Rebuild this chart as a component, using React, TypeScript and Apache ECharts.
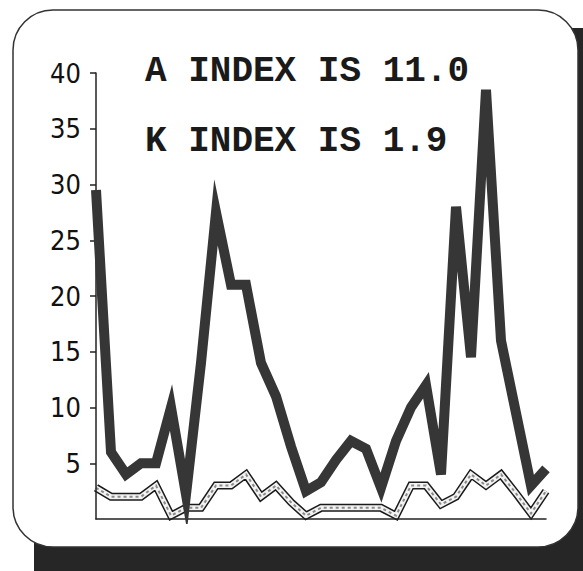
import React, { useEffect, useRef } from "react";
import * as echarts from "echarts";

const days = ["1","2","3","4","5","6","7","8","9","10","11","12","13","14","15","16","17","18","19","20","21","22","23","24","25","26","27","28","29","30","31"];
const aIndex = [29.5, 6, 4, 5, 5, 10, 2.2, 14, 27.5, 21, 21, 14, 11, 6.5, 2.5, 3.3, 5.3, 7, 6.3, 2.8, 7, 10, 12, 4, 28, 14.5, 38.5, 16, 9.5, 3, 4.5];
const kIndex = [2.8, 2, 2, 2, 3, 0.3, 1, 1, 3, 3, 4, 2, 3, 1.5, 0.3, 1, 1, 1, 1, 1, 0.3, 3, 3, 1.3, 2, 4, 3, 4, 2.3, 0.5, 2.5];
const headline1 = "A INDEX IS 11.0";
const headline2 = "K INDEX IS 1.9";
const yTicks = { min: 0, max: 40, interval: 5 };

export default function App() {
  const ref = useRef<HTMLDivElement>(null);
  useEffect(() => {
    if (!ref.current) return;
    const chart = echarts.init(ref.current, null, { renderer: "svg" });
    const headFont = "bold 36px 'Liberation Mono', 'Courier New', monospace";
    chart.setOption({
      animation: false,
      backgroundColor: "#ffffff",
      grid: { left: 96, right: 37, top: 73, bottom: 52, containLabel: false },
      graphic: [
        {
          type: "rect",
          z: -10,
          shape: { x: 34, y: 28, width: 640, height: 600, r: 45 },
          style: { fill: "#262626" },
        },
        {
          type: "rect",
          z: -9,
          shape: { x: 13, y: 10, width: 565, height: 537, r: 40 },
          style: { fill: "#ffffff", stroke: "#333333", lineWidth: 1.5 },
        },
        {
          type: "text",
          z: 10,
          x: 145,
          y: 71,
          style: { text: headline1, font: headFont, fill: "#1a1a1a", verticalAlign: "middle", align: "left" },
        },
        {
          type: "text",
          z: 10,
          x: 145,
          y: 141,
          style: { text: headline2, font: headFont, fill: "#1a1a1a", verticalAlign: "middle", align: "left" },
        },
      ],
      xAxis: {
        type: "category",
        data: days,
        boundaryGap: false,
        z: 5,
        axisLine: { show: true, lineStyle: { color: "#222", width: 1.5 } },
        axisTick: { show: false },
        axisLabel: { show: false },
        splitLine: { show: false },
      },
      yAxis: {
        type: "value",
        min: yTicks.min,
        max: yTicks.max,
        interval: yTicks.interval,
        z: 5,
        axisLine: { show: true, lineStyle: { color: "#222", width: 1.5 } },
        axisTick: { show: true, length: 6, lineStyle: { color: "#222", width: 1.5 } },
        axisLabel: {
          show: true,
          showMinLabel: false,
          margin: 15,
          color: "#111111",
          fontSize: 27,
          fontWeight: "normal",
          fontFamily: "'DejaVu Sans Condensed', 'Liberation Sans Narrow', 'Arial Narrow', sans-serif",
        },
        splitLine: { show: false },
      },
      series: [
        {
          name: "K outline",
          type: "line",
          data: kIndex,
          symbol: "none",
          z: 2,
          lineStyle: { color: "#1a1a1a", width: 8, join: "miter" },
        },
        {
          name: "K fill",
          type: "line",
          data: kIndex,
          symbol: "none",
          z: 3,
          lineStyle: { color: "#f2f2f2", width: 5, join: "miter" },
        },
        {
          name: "K hatch",
          type: "line",
          data: kIndex,
          symbol: "none",
          z: 4,
          lineStyle: { color: "#8a8a8a", width: 2, type: [3, 3], join: "miter" },
        },
        {
          name: "A index",
          type: "line",
          data: aIndex,
          symbol: "none",
          z: 6,
          lineStyle: { color: "#363636", width: 10, join: "miter", miterLimit: 8 },
        },
      ],
    });
    return () => chart.dispose();
  }, []);
  return (
    <div ref={ref} style={{ position: "fixed", left: 0, top: 0, width: 583, height: 571 }} />
  );
}
